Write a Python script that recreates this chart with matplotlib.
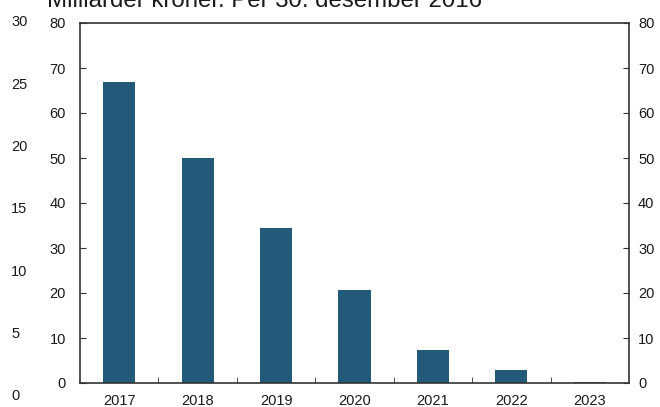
import matplotlib as mpl
mpl.use('Agg')
import matplotlib.pyplot as plt

plt.rcParams['font.family'] = ['Liberation Sans', 'DejaVu Sans']

years = ['2017', '2018', '2019', '2020', '2021', '2022', '2023']
values = [67.0, 50.0, 34.5, 20.7, 7.3, 3.0, 0.3]
inner_ticks = [0, 10, 20, 30, 40, 50, 60, 70, 80]
outer_ticks = [0, 5, 10, 15, 20, 25, 30]
title = 'Milliarder kroner. Per 30. desember 2016'

W, H = 660, 407
bar_color = '#235a79'
text_color = '#1a1a1a'
spine_color = '#333333'

fig = plt.figure(figsize=(W / 100, H / 100), dpi=100)

# main plot area
ax = fig.add_axes([80 / W, (H - 383) / H, 549 / W, 360 / H])
x = list(range(len(years)))
ax.bar(x, values, width=0.41, color=bar_color, zorder=2)
ax.set_xlim(-0.5, len(years) - 0.5)
ax.set_ylim(0, 80)

ax.set_xticks(x)
ax.set_xticklabels(years)
ax.set_xticks([i + 0.5 for i in x[:-1]], minor=True)
ax.tick_params(axis='x', which='major', length=0, pad=8, labelsize=10.5, colors=text_color)
ax.tick_params(axis='x', which='minor', direction='in', length=4, color=spine_color)

ax.set_yticks(inner_ticks)
ax.tick_params(axis='y', direction='in', length=4, color=spine_color, labelsize=10.5,
               labelcolor=text_color, pad=10)
for s in ax.spines.values():
    s.set_color(spine_color)
    s.set_linewidth(1.2)

# right scale, same values
axr = ax.twinx()
axr.set_ylim(0, 80)
axr.set_yticks(inner_ticks)
axr.tick_params(axis='y', direction='in', length=4, color=spine_color, labelsize=10.5,
                labelcolor=text_color, pad=6.5)
for s in axr.spines.values():
    s.set_visible(False)

# stray left scale (0-30)
ax2 = fig.add_axes([11 / W, (H - 395) / H, 0.0001, 374 / H])
ax2.set_ylim(0, 30)
ax2.set_yticks(outer_ticks)
ax2.set_xticks([])
ax2.yaxis.tick_right()
ax2.tick_params(axis='y', length=0, pad=0, labelsize=10.5, labelcolor=text_color)
for s in ax2.spines.values():
    s.set_visible(False)
ax2.patch.set_visible(False)

fig.text(47 / W, 1 - 7 / H, title, fontsize=17.3, color=text_color, va='baseline', ha='left')

fig.savefig('out.png', dpi=100)
